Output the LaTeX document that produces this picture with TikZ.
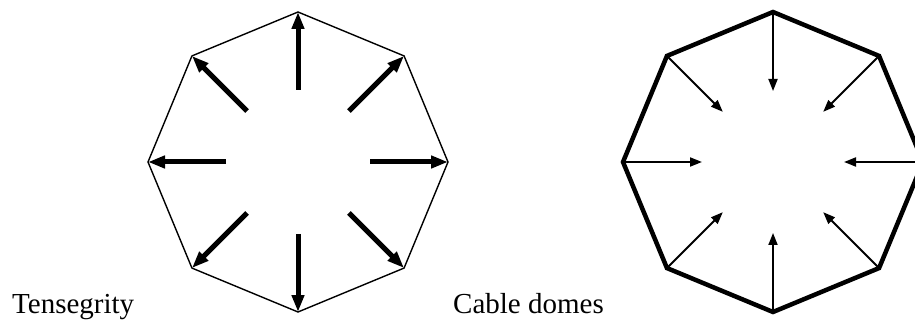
\documentclass[tikz,border=0pt]{standalone}
\usepackage{fontspec}
\setmainfont{Liberation Serif}
\usetikzlibrary{positioning,arrows.meta}

\begin{document}
\begin{tikzpicture}[x=1pt, y=-1pt]
  \tikzstyle{lbl}=[anchor=base west, inner sep=0pt, font=\fontsize{29}{32}\selectfont]
  \tikzstyle{push}=[line width=5pt, -{Triangle[length=17pt,width=12pt]}]
  \tikzstyle{pull}=[line width=1.8pt, -{Triangle[length=12pt,width=9pt]}]

  \useasboundingbox (0,0) rectangle (915,320);
  \clip (0,0) rectangle (915,320);

  \coordinate (T) at (298,162);
  \coordinate (C) at (773,162);
  \foreach \i in {0,...,7} {
    \coordinate (T\i) at ([shift={(\i*45:150)}]T);
    \coordinate (t\i) at ([shift={(\i*45:72)}]T);
    \coordinate (C\i) at ([shift={(\i*45:150)}]C);
    \coordinate (c\i) at ([shift={(\i*45:71)}]C);
  }

  % tensegrity ring and struts
  \draw[line width=1.4pt, line join=miter] (T0) -- (T1) -- (T2) -- (T3) -- (T4) -- (T5) -- (T6) -- (T7) -- cycle;
  \foreach \i in {0,...,7}
    \draw[push] (t\i) -- (T\i);

  % cable dome ring and cables
  \draw[line width=4.5pt, line join=miter] (C0) -- (C1) -- (C2) -- (C3) -- (C4) -- (C5) -- (C6) -- (C7) -- cycle;
  \foreach \i in {0,...,7}
    \draw[pull] (C\i) -- (c\i);

  \node[lbl] (tens) at (12,313) {Tensegrity};
  \node[lbl] (cable) at (453,313) {Cable domes};
\end{tikzpicture}
\end{document}
